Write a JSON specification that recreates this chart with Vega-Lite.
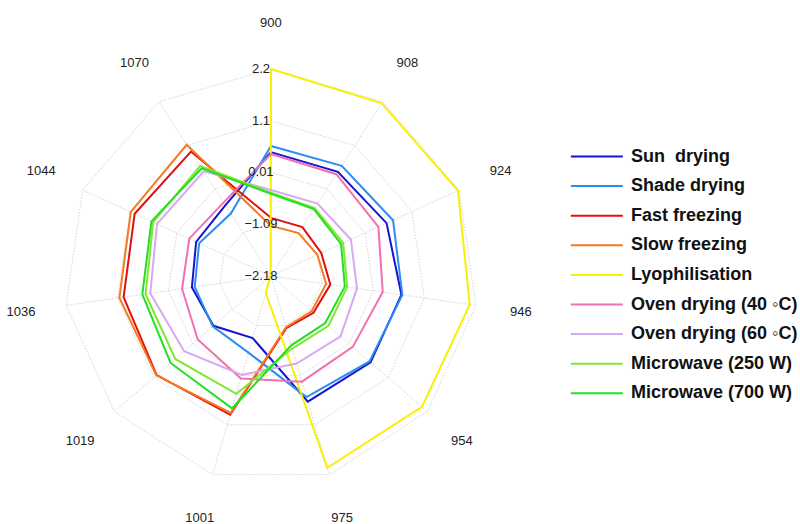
{
  "$schema": "https://vega.github.io/schema/vega-lite/v6.json",
  "width": 800,
  "height": 524,
  "autosize": "none",
  "padding": 0,
  "background": "white",
  "config": {"view": {"stroke": null}},
  "datasets": {
    "series": [
      {"series":"Sun\u00a0 drying","wn":"900","value":0.44},{"series":"Sun\u00a0 drying","wn":"908","value":0.44},{"series":"Sun\u00a0 drying","wn":"924","value":0.51},{"series":"Sun\u00a0 drying","wn":"946","value":0.61},{"series":"Sun\u00a0 drying","wn":"954","value":0.61},{"series":"Sun\u00a0 drying","wn":"975","value":0.59},{"series":"Sun\u00a0 drying","wn":"1001","value":-0.81},{"series":"Sun\u00a0 drying","wn":"1019","value":-0.57},{"series":"Sun\u00a0 drying","wn":"1036","value":-0.49},{"series":"Sun\u00a0 drying","wn":"1044","value":-0.44},{"series":"Sun\u00a0 drying","wn":"1070","value":-0.40},
      {"series":"Shade drying","wn":"900","value":0.57},{"series":"Shade drying","wn":"908","value":0.59},{"series":"Shade drying","wn":"924","value":0.66},{"series":"Shade drying","wn":"946","value":0.63},{"series":"Shade drying","wn":"954","value":0.58},{"series":"Shade drying","wn":"975","value":0.49},{"series":"Shade drying","wn":"1001","value":-0.49},{"series":"Shade drying","wn":"1019","value":-0.55},{"series":"Shade drying","wn":"1036","value":-0.55},{"series":"Shade drying","wn":"1044","value":-0.51},{"series":"Shade drying","wn":"1070","value":-0.61},
      {"series":"Fast freezing","wn":"900","value":-0.95},{"series":"Fast freezing","wn":"908","value":-0.95},{"series":"Fast freezing","wn":"924","value":-1.01},{"series":"Fast freezing","wn":"946","value":-0.91},{"series":"Fast freezing","wn":"954","value":-0.99},{"series":"Fast freezing","wn":"975","value":-1.03},{"series":"Fast freezing","wn":"1001","value":0.88},{"series":"Fast freezing","wn":"1019","value":1.02},{"series":"Fast freezing","wn":"1036","value":0.97},{"series":"Fast freezing","wn":"1044","value":0.99},{"series":"Fast freezing","wn":"1070","value":0.95},
      {"series":"Slow freezing","wn":"900","value":-1.12},{"series":"Slow freezing","wn":"908","value":-1.10},{"series":"Slow freezing","wn":"924","value":-1.10},{"series":"Slow freezing","wn":"946","value":-1.00},{"series":"Slow freezing","wn":"954","value":-1.04},{"series":"Slow freezing","wn":"975","value":-1.05},{"series":"Slow freezing","wn":"1001","value":0.84},{"series":"Slow freezing","wn":"1019","value":1.03},{"series":"Slow freezing","wn":"1036","value":1.06},{"series":"Slow freezing","wn":"1044","value":1.08},{"series":"Slow freezing","wn":"1070","value":1.12},
      {"series":"Lyophilisation","wn":"900","value":2.2},{"series":"Lyophilisation","wn":"908","value":2.16},{"series":"Lyophilisation","wn":"924","value":2.17},{"series":"Lyophilisation","wn":"946","value":2.07},{"series":"Lyophilisation","wn":"954","value":2.05},{"series":"Lyophilisation","wn":"975","value":2.05},{"series":"Lyophilisation","wn":"1001","value":-1.80},{"series":"Lyophilisation","wn":"1019","value":-2.15},{"series":"Lyophilisation","wn":"1036","value":-2.18},{"series":"Lyophilisation","wn":"1044","value":-2.18},{"series":"Lyophilisation","wn":"1070","value":-2.17},
      {"series":"Oven drying (40 ◦C)","wn":"900","value":0.40},{"series":"Oven drying (40 ◦C)","wn":"908","value":0.38},{"series":"Oven drying (40 ◦C)","wn":"924","value":0.32},{"series":"Oven drying (40 ◦C)","wn":"946","value":0.21},{"series":"Oven drying (40 ◦C)","wn":"954","value":0.11},{"series":"Oven drying (40 ◦C)","wn":"975","value":0.15},{"series":"Oven drying (40 ◦C)","wn":"1001","value":0.08},{"series":"Oven drying (40 ◦C)","wn":"1019","value":-0.13},{"series":"Oven drying (40 ◦C)","wn":"1036","value":-0.28},{"series":"Oven drying (40 ◦C)","wn":"1044","value":-0.28},{"series":"Oven drying (40 ◦C)","wn":"1070","value":-0.33},
      {"series":"Oven drying (60 ◦C)","wn":"900","value":-0.36},{"series":"Oven drying (60 ◦C)","wn":"908","value":-0.36},{"series":"Oven drying (60 ◦C)","wn":"924","value":-0.32},{"series":"Oven drying (60 ◦C)","wn":"946","value":-0.34},{"series":"Oven drying (60 ◦C)","wn":"954","value":-0.23},{"series":"Oven drying (60 ◦C)","wn":"975","value":-0.25},{"series":"Oven drying (60 ◦C)","wn":"1001","value":0.0},{"series":"Oven drying (60 ◦C)","wn":"1019","value":0.25},{"series":"Oven drying (60 ◦C)","wn":"1036","value":0.40},{"series":"Oven drying (60 ◦C)","wn":"1044","value":0.47},{"series":"Oven drying (60 ◦C)","wn":"1070","value":0.45},
      {"series":"Microwave (250 W)","wn":"900","value":-0.42},{"series":"Microwave (250 W)","wn":"908","value":-0.47},{"series":"Microwave (250 W)","wn":"924","value":-0.50},{"series":"Microwave (250 W)","wn":"946","value":-0.55},{"series":"Microwave (250 W)","wn":"954","value":-0.57},{"series":"Microwave (250 W)","wn":"975","value":-0.58},{"series":"Microwave (250 W)","wn":"1001","value":0.42},{"series":"Microwave (250 W)","wn":"1019","value":0.50},{"series":"Microwave (250 W)","wn":"1036","value":0.50},{"series":"Microwave (250 W)","wn":"1044","value":0.56},{"series":"Microwave (250 W)","wn":"1070","value":0.59},
      {"series":"Microwave (700 W)","wn":"900","value":-0.44},{"series":"Microwave (700 W)","wn":"908","value":-0.50},{"series":"Microwave (700 W)","wn":"924","value":-0.55},{"series":"Microwave (700 W)","wn":"946","value":-0.60},{"series":"Microwave (700 W)","wn":"954","value":-0.66},{"series":"Microwave (700 W)","wn":"975","value":-0.65},{"series":"Microwave (700 W)","wn":"1001","value":0.74},{"series":"Microwave (700 W)","wn":"1019","value":0.63},{"series":"Microwave (700 W)","wn":"1036","value":0.57},{"series":"Microwave (700 W)","wn":"1044","value":0.60},{"series":"Microwave (700 W)","wn":"1070","value":0.53}
    ],
    "grid": [
      {"wn":"900","a":-1.09,"b":0.01,"c":1.1,"d":2.2},{"wn":"908","a":-1.09,"b":0.01,"c":1.1,"d":2.2},{"wn":"924","a":-1.09,"b":0.01,"c":1.1,"d":2.2},{"wn":"946","a":-1.09,"b":0.01,"c":1.1,"d":2.2},{"wn":"954","a":-1.09,"b":0.01,"c":1.1,"d":2.2},{"wn":"975","a":-1.09,"b":0.01,"c":1.1,"d":2.2},{"wn":"1001","a":-1.09,"b":0.01,"c":1.1,"d":2.2},{"wn":"1019","a":-1.09,"b":0.01,"c":1.1,"d":2.2},{"wn":"1036","a":-1.09,"b":0.01,"c":1.1,"d":2.2},{"wn":"1044","a":-1.09,"b":0.01,"c":1.1,"d":2.2},{"wn":"1070","a":-1.09,"b":0.01,"c":1.1,"d":2.2}
    ],
    "levels": [
      {"lab":"2.2","v":2.2},{"lab":"1.1","v":1.1},{"lab":"0.01","v":0.01},{"lab":"−1.09","v":-1.09},{"lab":"−2.18","v":-2.18}
    ]
  },
  "layer": [
    {
      "data": {"name": "grid"},
      "transform": [
        {"calculate": "indexof(['900','908','924','946','954','975','1001','1019','1036','1044','1070'], datum.wn)", "as": "idx"},
        {"calculate": "2.2", "as": "outer"},
        {"calculate": "-2.18", "as": "inner"},
        {"fold": ["inner", "outer"], "as": ["end", "lv"]},
        {"calculate": "(datum.lv + 2.18) / 4.38 * sin(datum.idx * 2 * PI / 11)", "as": "px"},
        {"calculate": "(datum.lv + 2.18) / 4.38 * cos(datum.idx * 2 * PI / 11)", "as": "py"}
      ],
      "mark": {"type": "line", "stroke": "#c8c8d0", "strokeWidth": 0.8, "strokeDash": [1.5, 1.5]},
      "encoding": {
        "x": {"field": "px", "type": "quantitative", "scale": {"domain": [-1.309, 2.556], "nice": false, "zero": false}, "axis": null},
        "y": {"field": "py", "type": "quantitative", "scale": {"domain": [-1.198, 1.333], "nice": false, "zero": false}, "axis": null},
        "detail": {"field": "wn"},
        "order": {"field": "lv"}
      }
    },
    {
      "data": {"name": "grid"},
      "transform": [
        {"calculate": "indexof(['900','908','924','946','954','975','1001','1019','1036','1044','1070'], datum.wn)", "as": "idx"},
        {"fold": ["a", "b", "c", "d"], "as": ["ring", "lv"]},
        {"calculate": "0", "as": "c0"},
        {"calculate": "1", "as": "c1"},
        {"fold": ["c0", "c1"], "as": ["dk", "dv"]},
        {"filter": "datum.dv == 0 || datum.idx == 0"},
        {"calculate": "datum.dv == 1 ? 11 : datum.idx", "as": "ord"},
        {"calculate": "(datum.lv + 2.18) / 4.38 * sin(datum.ord * 2 * PI / 11)", "as": "px"},
        {"calculate": "(datum.lv + 2.18) / 4.38 * cos(datum.ord * 2 * PI / 11)", "as": "py"}
      ],
      "mark": {"type": "line", "stroke": "#c8c8d0", "strokeWidth": 0.8, "strokeDash": [1.5, 1.5]},
      "encoding": {
        "x": {"field": "px", "type": "quantitative", "scale": {"domain": [-1.309, 2.556], "nice": false, "zero": false}, "axis": null},
        "y": {"field": "py", "type": "quantitative", "scale": {"domain": [-1.198, 1.333], "nice": false, "zero": false}, "axis": null},
        "detail": {"field": "ring"},
        "order": {"field": "ord"}
      }
    },
    {
      "data": {"name": "grid"},
      "transform": [
        {"calculate": "indexof(['900','908','924','946','954','975','1001','1019','1036','1044','1070'], datum.wn)", "as": "idx"},
        {"calculate": "1.22 * sin(datum.idx * 2 * PI / 11)", "as": "px"},
        {"calculate": "1.22 * cos(datum.idx * 2 * PI / 11)", "as": "py"}
      ],
      "mark": {"type": "text", "font": "Liberation Sans", "fontSize": 13, "color": "#222", "align": "center", "baseline": "middle"},
      "encoding": {
        "x": {"field": "px", "type": "quantitative", "scale": {"domain": [-1.309, 2.556], "nice": false, "zero": false}, "axis": null},
        "y": {"field": "py", "type": "quantitative", "scale": {"domain": [-1.198, 1.333], "nice": false, "zero": false}, "axis": null},
        "text": {"field": "wn"}
      }
    },
    {
      "data": {"name": "series"},
      "transform": [
        {"calculate": "indexof(['900','908','924','946','954','975','1001','1019','1036','1044','1070'], datum.wn)", "as": "idx"},
        {"calculate": "0", "as": "c0"},
        {"calculate": "1", "as": "c1"},
        {"fold": ["c0", "c1"], "as": ["dk", "dv"]},
        {"filter": "datum.dv == 0 || datum.idx == 0"},
        {"calculate": "datum.dv == 1 ? 11 : datum.idx", "as": "ord"},
        {"calculate": "(datum.value + 2.18) / 4.38 * sin(datum.ord * 2 * PI / 11)", "as": "px"},
        {"calculate": "(datum.value + 2.18) / 4.38 * cos(datum.ord * 2 * PI / 11)", "as": "py"}
      ],
      "mark": {"type": "line", "strokeWidth": 2, "strokeJoin": "miter"},
      "encoding": {
        "x": {"field": "px", "type": "quantitative", "scale": {"domain": [-1.309, 2.556], "nice": false, "zero": false}, "axis": null},
        "y": {"field": "py", "type": "quantitative", "scale": {"domain": [-1.198, 1.333], "nice": false, "zero": false}, "axis": null},
        "order": {"field": "ord"},
        "color": {
          "field": "series", "type": "nominal",
          "scale": {
            "domain": ["Sun\u00a0 drying", "Shade drying", "Fast freezing", "Slow freezing", "Lyophilisation", "Oven drying (40 ◦C)", "Oven drying (60 ◦C)", "Microwave (250 W)", "Microwave (700 W)"],
            "range": ["#1414d2", "#2a8ef0", "#e01010", "#f57a20", "#f8f000", "#f070b0", "#d8a8f2", "#80e830", "#20e020"]
          },
          "legend": {
            "title": null, "orient": "none", "legendX": 587, "legendY": 138, "padding": 0,
            "symbolType": "M-2,0H1", "symbolSize": 1200, "symbolStrokeWidth": 2,
            "labelFont": "Liberation Sans", "labelFontSize": 18, "labelFontWeight": "bold", "labelColor": "#111",
            "labelOffset": 7, "rowPadding": 1.6, "labelLimit": 300
          }
        }
      }
    },
    {
      "data": {"name": "levels"},
      "transform": [
        {"calculate": "0", "as": "px"},
        {"calculate": "(datum.v + 2.18) / 4.38", "as": "py"}
      ],
      "mark": {"type": "text", "font": "Liberation Sans", "fontSize": 13, "color": "#222", "align": "center", "baseline": "middle", "dx": -10},
      "encoding": {
        "x": {"field": "px", "type": "quantitative", "scale": {"domain": [-1.309, 2.556], "nice": false, "zero": false}, "axis": null},
        "y": {"field": "py", "type": "quantitative", "scale": {"domain": [-1.198, 1.333], "nice": false, "zero": false}, "axis": null},
        "text": {"field": "lab"}
      }
    }
  ]
}
